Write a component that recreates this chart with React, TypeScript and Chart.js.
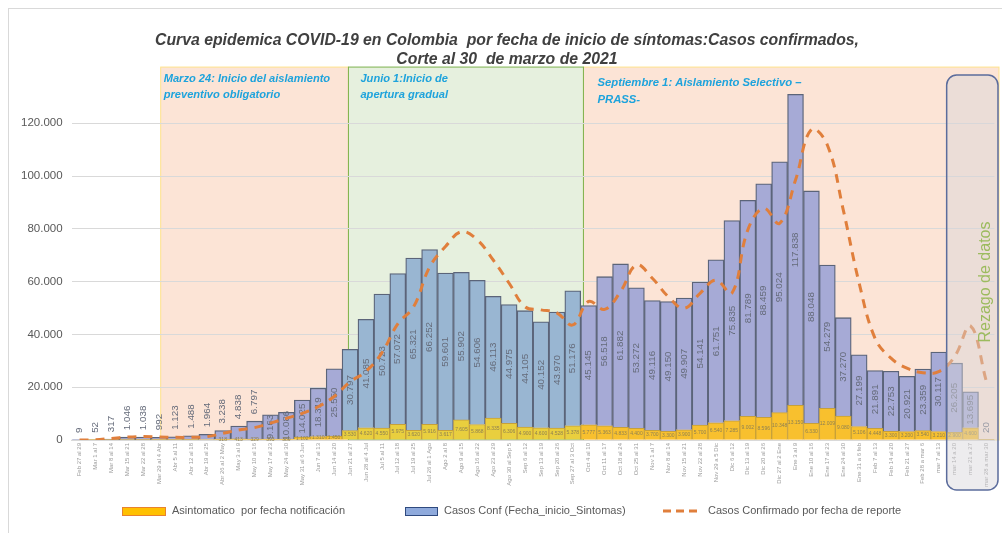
import React, { useEffect, useRef } from 'react';
import { Chart, registerables } from 'chart.js';

Chart.register(...registerables);

const categories = [
  'Feb 27 al 29', 'Mar 1 al 7', 'Mar 8 al 14', 'Mar 15 al 21', 'Mar 22 al 28', 'Mar 29 al 4 Abr',
  'Abr 5 al 11', 'Abr 12 al 18', 'Abr 19 al 25', 'Abr 26 al 2 May', 'May 3 al 9', 'May 10 al 16',
  'May 17 al 23', 'May 24 al 30', 'May 31 al 6 Jun', 'Jun 7 al 13', 'Jun 14 al 20', 'Jun 21 al 27',
  'Jun 28 al 4 Jul', 'Jul 5 al 11', 'Jul 12 al 18', 'Jul 19 al 25', 'Jul 26 al 1 Ago', 'Ago 2 al 8',
  'Ago 9 al 15', 'Ago 16 al 22', 'Ago 23 al 29', 'Ago 30 al Sep 5', 'Sep 6 al 12', 'Sep 13 al 19',
  'Sep 20 al 26', 'Sep 27 al 3 Oct', 'Oct 4 al 10', 'Oct 11 al 17', 'Oct 18 al 24', 'Oct 25 al 31',
  'Nov 1 al 7', 'Nov 8 al 14', 'Nov 15 al 21', 'Nov 22 al 28', 'Nov 29 a 5 Dic', 'Dic 6 al 12',
  'Dic 13 al 19', 'Dic 20 al 26', 'Dic 27 al 2 Ene', 'Ene 3 al 9', 'Ene 10 al 16', 'Ene 17 al 23',
  'Ene 24 al 30', 'Ene 31 a 6 feb', 'Feb 7 al 13', 'Feb 14 al 20', 'Feb 21 al 27', 'Feb 28 a mar 6',
  'mar 7 al 13', 'mar 14 a 20', 'mar 21 a 27', 'mar 28 a mar 30',
];

const asintomaticos = [
  0, 1, 5, 20, 40, 60, 90, 120, 180, 318, 413, 329, 393, 389, 1102, 1310, 1450, 3530,
  4620, 4550, 5975, 3620, 5916, 3617, 7605, 5868, 8335, 6306, 4900, 4600, 4528, 5378,
  5777, 5363, 4833, 4400, 3700, 3300, 3900, 5700, 6540, 7285, 9002, 8596, 10348, 13150,
  6330, 12009, 9080, 5106, 4448, 3300, 3200, 3540, 3210, 2900, 4600, 1,
];

const casosConf = [
  9, 52, 317, 1046, 1038, 992, 1123, 1488, 1964, 3238, 4838, 6797, 9163, 10086, 14025, 18319,
  25550, 30797, 41085, 50723, 57072, 65321, 66252, 59601, 55902, 54606, 46113, 44975, 44105,
  40152, 43970, 51176, 45145, 56518, 61882, 53272, 49116, 49150, 49907, 54141, 61751, 75835,
  81789, 88459, 95024, 117838, 88048, 54279, 37270, 27199, 21891, 22753, 20921, 23359, 30117,
  26205, 13695, 20,
];

const casosReporte = [
  0, 100, 600, 1100, 1300, 1100, 1000, 1000, 1300, 2500, 3800, 4700, 6400, 8200, 10100, 12600,
  16500, 22000, 26000, 33000, 44000, 50500, 65500, 73300, 78900, 75800, 68200, 59400, 50500,
  49300, 48200, 43600, 52500, 49500, 56200, 66300, 61300, 54300, 49900, 55600, 60600, 55600,
  79600, 87800, 82100, 98500, 117700, 111800, 87200, 59400, 38500, 31000, 27200, 25500, 25900,
  31600, 43200, 22100,
];

const yStep = 20000;
const yMax = 140000;
const yLastLabel = 120000;

const titleLines = [
  'Curva epidemica COVID-19 en Colombia  por fecha de inicio de síntomas:Casos confirmados,',
  'Corte al 30  de marzo de 2021',
];

const legendLabels = [
  'Asintomatico  por fecha notificación',
  'Casos Conf (Fecha_inicio_Sintomas)',
  'Casos Confirmado por fecha de reporte',
];

const FONT = "'Liberation Sans', Arial, sans-serif";

const BOX1_FROM = 5.1;
const GREEN_FROM = 16.9;
const GREEN_TO = 31.67;
const REZAGO_FROM = 54.5;

function fmt(v: number): string {
  return String(Math.round(v)).replace(/\B(?=(\d{3})+(?!\d))/g, '.');
}

function inGreen(i: number) {
  return i >= 17 && i <= 31;
}

const blueColors = categories.map((_, i) => (inGreen(i) ? '#99B6D2' : '#A6AAD6'));
const yellowColors = categories.map((_, i) => (inGreen(i) ? '#E9CF3E' : '#F8C02E'));

const decorPlugin = {
  id: 'decor',
  beforeDraw(chart: any) {
    const { ctx, chartArea, scales } = chart;
    const x = scales.x;
    const y = scales.y;
    const top = y.getPixelForValue(141300);
    const bottom = chartArea.bottom;
    const xa = x.getPixelForValue(BOX1_FROM);
    const xb = x.getPixelForValue(GREEN_FROM);
    const xc = x.getPixelForValue(GREEN_TO);
    const xd = chart.width - 3;
    ctx.save();
    ctx.strokeStyle = '#D9D9D9';
    ctx.lineWidth = 1;
    ctx.strokeRect(8.5, 8.5, chart.width - 8, chart.height - 8);
    ctx.fillStyle = '#FCE4D6';
    ctx.fillRect(xa, top, xb - xa, bottom - top);
    ctx.fillRect(xc, top, xd - xc, bottom - top);
    ctx.fillStyle = '#E6F0DE';
    ctx.fillRect(xb, top, xc - xb, bottom - top);
    ctx.lineWidth = 1;
    ctx.strokeStyle = '#FFE38C';
    ctx.strokeRect(xa, top, xb - xa, bottom - top);
    ctx.strokeRect(xc, top, xd - xc, bottom - top);
    ctx.strokeStyle = '#7DB24E';
    ctx.strokeRect(xb, top, xc - xb, bottom - top);
    ctx.fillStyle = '#1EA3DC';
    ctx.font = `italic bold 11.1px ${FONT}`;
    ctx.textBaseline = 'middle';
    ctx.textAlign = 'left';
    ctx.fillText('Marzo 24: Inicio del aislamiento', xa + 3, 79);
    ctx.fillText('preventivo obligatorio', xa + 3, 95);
    ctx.fillText('Junio 1:Inicio de', xb + 12, 79);
    ctx.fillText('apertura gradual', xb + 12, 95);
    ctx.font = `italic bold 11.3px ${FONT}`;
    ctx.fillText('Septiembre 1: Aislamiento Selectivo –', xc + 14, 83);
    ctx.fillText('PRASS-', xc + 14, 100);
    ctx.restore();
  },
  afterDatasetDraw(chart: any, args: any) {
    const { ctx } = chart;
    const meta = chart.getDatasetMeta(args.index);
    ctx.save();
    if (args.index === 1) {
      ctx.fillStyle = '#656B7A';
      ctx.font = `9.8px ${FONT}`;
      ctx.textBaseline = 'middle';
      meta.data.forEach((el: any, i: number) => {
        const v = casosConf[i];
        const txt = fmt(v);
        ctx.save();
        if (v < 8000) {
          ctx.translate(el.x, el.y - 7);
          ctx.rotate(-Math.PI / 2);
          ctx.textAlign = 'left';
          ctx.fillText(txt, 0, 0);
        } else {
          ctx.translate(el.x, (el.y + el.base) / 2);
          ctx.rotate(-Math.PI / 2);
          ctx.textAlign = 'center';
          ctx.fillText(txt, 0, 0);
        }
        ctx.restore();
      });
    } else if (args.index === 0) {
      ctx.fillStyle = '#8E8052';
      ctx.font = `5px ${FONT}`;
      ctx.textBaseline = 'middle';
      ctx.textAlign = 'center';
      meta.data.forEach((el: any, i: number) => {
        const v = asintomaticos[i];
        if (v < 300) return;
        ctx.fillText(fmt(v), el.x, (el.y + el.base) / 2);
      });
    }
    ctx.restore();
  },
  afterDatasetsDraw(chart: any) {
    const { ctx, chartArea, scales } = chart;
    const x = scales.x;
    const y = scales.y;
    const left = x.getPixelForValue(REZAGO_FROM);
    const right = chart.width - 4;
    const top = y.getPixelForValue(138300);
    const bottom = chartArea.bottom + 50;
    ctx.save();
    ctx.beginPath();
    if (ctx.roundRect) ctx.roundRect(left, top, right - left, bottom - top, 10);
    else ctx.rect(left, top, right - left, bottom - top);
    ctx.fillStyle = 'rgba(214,212,218,0.45)';
    ctx.fill();
    ctx.strokeStyle = '#5B6C9C';
    ctx.lineWidth = 1.5;
    ctx.stroke();
    ctx.translate(986, 282);
    ctx.rotate(-Math.PI / 2);
    ctx.fillStyle = '#9CBB5E';
    ctx.font = `16px ${FONT}`;
    ctx.textAlign = 'center';
    ctx.textBaseline = 'middle';
    ctx.fillText('Rezago de datos', 0, 0);
    ctx.restore();
  },
  afterDraw(chart: any) {
    const { ctx } = chart;
    const ly = 511;
    ctx.save();
    ctx.font = `11px ${FONT}`;
    ctx.textBaseline = 'middle';
    ctx.textAlign = 'left';
    ctx.fillStyle = '#FFC000';
    ctx.fillRect(122, ly - 4, 43, 8);
    ctx.strokeStyle = '#E8822E';
    ctx.lineWidth = 1;
    ctx.strokeRect(122.5, ly - 3.5, 43, 8);
    ctx.fillStyle = '#595959';
    ctx.fillText(legendLabels[0], 172, ly);
    ctx.fillStyle = '#8FAADC';
    ctx.fillRect(405, ly - 4, 32, 8);
    ctx.strokeStyle = '#2F4A7F';
    ctx.strokeRect(405.5, ly - 3.5, 32, 8);
    ctx.fillStyle = '#595959';
    ctx.fillText(legendLabels[1], 444, ly);
    ctx.strokeStyle = '#E07F3C';
    ctx.lineWidth = 3;
    ctx.setLineDash([8, 5]);
    ctx.beginPath();
    ctx.moveTo(663, ly);
    ctx.lineTo(701, ly);
    ctx.stroke();
    ctx.setLineDash([]);
    ctx.fillStyle = '#595959';
    ctx.fillText(legendLabels[2], 708, ly);
    ctx.restore();
  },
};

export default function App() {
  const canvasRef = useRef<HTMLCanvasElement | null>(null);

  useEffect(() => {
    const canvas = canvasRef.current;
    if (!canvas) return;
    const chart = new Chart(canvas, {
      type: 'bar',
      data: {
        labels: categories,
        datasets: [
          {
            type: 'bar',
            label: legendLabels[0],
            data: asintomaticos,
            backgroundColor: yellowColors,
            borderColor: '#C6A03A',
            borderWidth: 1,
            order: 1,
            categoryPercentage: 1,
            barPercentage: 1,
          },
          {
            type: 'bar',
            label: legendLabels[1],
            data: casosConf,
            backgroundColor: blueColors,
            borderColor: '#5B6479',
            borderWidth: 1.3,
            order: 2,
            categoryPercentage: 1,
            barPercentage: 1,
          },
          {
            type: 'line',
            label: legendLabels[2],
            data: casosReporte,
            borderColor: '#E07F3C',
            borderWidth: 3,
            borderDash: [9, 7],
            pointRadius: 0,
            tension: 0.4,
            fill: false,
            order: 0,
          },
        ] as any,
      },
      plugins: [decorPlugin],
      options: {
        animation: false,
        responsive: true,
        maintainAspectRatio: false,
        layout: { padding: { left: 19.6, right: 7.6, top: 10, bottom: 0 } },
        plugins: {
          legend: { display: false },
          tooltip: { enabled: false },
          title: {
            display: true,
            text: titleLines,
            color: '#404040',
            font: { family: FONT, size: 15.8, weight: 'bold', style: 'italic', lineHeight: 19 / 15.8 },
            padding: { top: 21.5, bottom: 1 },
          },
        },
        scales: {
          x: {
            stacked: true,
            offset: true,
            grid: { display: false, drawTicks: false },
            border: { display: true, color: '#D9D9D9' },
            ticks: {
              autoSkip: false,
              maxRotation: 90,
              minRotation: 90,
              color: '#9A9A9A',
              padding: 3,
              font: { family: FONT, size: 6 },
            },
            afterFit: (s: any) => {
              s.height = 93;
            },
          },
          y: {
            stacked: true,
            min: 0,
            max: yMax,
            grid: {
              drawTicks: false,
              color: (c: any) => (c.tick && c.tick.value > yLastLabel ? 'rgba(0,0,0,0)' : '#D9D9D9'),
            },
            border: { display: false },
            ticks: {
              stepSize: yStep,
              color: '#595959',
              padding: 9,
              font: { family: FONT, size: 11.5 },
              callback: (v: any) => (Number(v) > yLastLabel ? '' : fmt(Number(v))),
            },
            afterFit: (s: any) => {
              s.width = 52;
            },
          },
        },
      } as any,
    });
    return () => chart.destroy();
  }, []);

  return (
    <div style={{ position: 'absolute', left: 0, top: 0, width: 1002, height: 533, background: '#ffffff' }}>
      <canvas ref={canvasRef} />
    </div>
  );
}
